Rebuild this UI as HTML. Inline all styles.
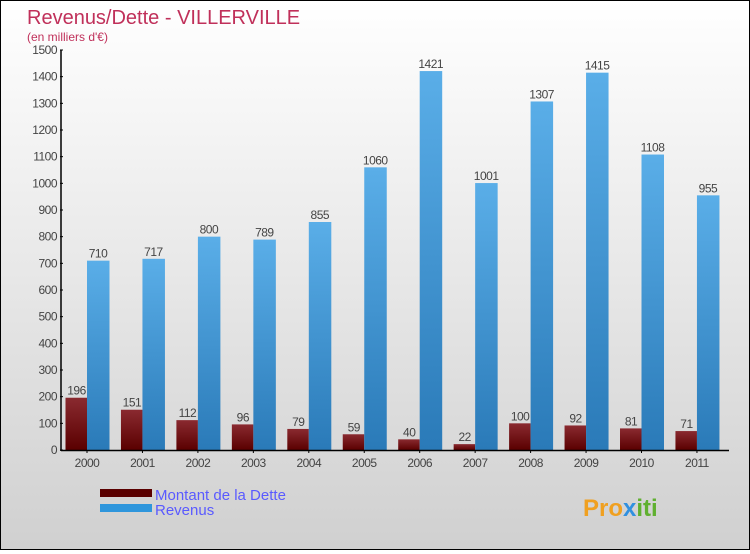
<!DOCTYPE html>
<html><head><meta charset="utf-8"><style>
html,body{margin:0;padding:0}
body{width:750px;height:550px;overflow:hidden;font-family:"Liberation Sans","DejaVu Sans",sans-serif}
#wrap{position:absolute;left:0;top:0;width:748px;height:548px;border:1px solid #000;background:linear-gradient(#ffffff,#d0d0d0)}
</style></head><body>
<div id="wrap">
<svg id="chart" width="748" height="548">
<defs>
<linearGradient id="gR" x1="0" y1="0" x2="0" y2="1"><stop offset="0" stop-color="#8a2a30"/><stop offset="1" stop-color="#5a0000"/></linearGradient>
<linearGradient id="gB" x1="0" y1="0" x2="0" y2="1"><stop offset="0" stop-color="#5aaee8"/><stop offset="1" stop-color="#2a7ab8"/></linearGradient>
</defs>
<text x="26" y="23" font-size="20" fill="#c0305a">Revenus/Dette - VILLERVILLE</text>
<text x="26" y="40" font-size="12" fill="#c0305a">(en milliers d'€)</text>
<g id="plot"></g>
<rect x="99" y="488" width="52" height="8" fill="#5a0000"/>
<rect x="99" y="503" width="52" height="8" fill="#2f96dc"/>
<text x="154" y="499" font-size="15" fill="#5a5aff">Montant de la Dette</text>
<text x="154" y="514" font-size="15" fill="#5a5aff">Revenus</text>
<text x="582" y="515" font-size="24" font-weight="bold" fill="#f0a020">Pro<tspan fill="#3090e0">x</tspan><tspan fill="#60b030">iti</tspan></text>
</svg>
</div>
<script>
const years=["2000","2001","2002","2003","2004","2005","2006","2007","2008","2009","2010","2011"];
const dette=[196,151,112,96,79,59,40,22,100,92,81,71];
const revenus=[710,717,800,789,855,1060,1421,1001,1307,1415,1108,955];
const yTicks=[0,100,200,300,400,500,600,700,800,900,1000,1100,1200,1300,1400,1500];
const NS="http://www.w3.org/2000/svg";
const g=document.getElementById('plot');
const y=v=>449-v*400/1500;
const xc=i=>86+i*55.45;
function mk(t,a){const e=document.createElementNS(NS,t);for(const k in a)e.setAttribute(k,a[k]);g.appendChild(e);return e;}
yTicks.forEach(t=>{
 const l=mk('line',{x1:59,x2:62,y1:y(t),y2:y(t),stroke:'#000'});
 
 
 const tx=mk('text',{x:56,y:y(t)+4,'font-size':12,fill:'#444','text-anchor':'end','letter-spacing':'-0.5'});
 tx.textContent=t;
 
 
});
years.forEach((yr,i)=>{
 const c=xc(i);
 const r=mk('rect',{x:c-21.5,y:y(dette[i]),width:21.5,height:dette[i]*400/1500,fill:'url(#gR)'});
 
 
 const b=mk('rect',{x:c,y:y(revenus[i]),width:22.5,height:revenus[i]*400/1500,fill:'url(#gB)'});
 
 
 const t1=mk('text',{x:c-10.5,y:y(dette[i])-3,'font-size':12,fill:'#444','text-anchor':'middle','letter-spacing':'-0.5'});
 t1.textContent=dette[i];
 
 
 const t2=mk('text',{x:c+11,y:y(revenus[i])-3,'font-size':12,fill:'#444','text-anchor':'middle','letter-spacing':'-0.5'});
 t2.textContent=revenus[i];
 
 
 const tk=mk('line',{x1:c,x2:c,y1:449,y2:452,stroke:'#000'});
 
 
 const xl=mk('text',{x:c,y:466,'font-size':12,fill:'#444','text-anchor':'middle','letter-spacing':'-0.5'});
 xl.textContent=yr;
 
 
});
const ya=mk('line',{x1:60,x2:60,y1:49,y2:450,stroke:'#000','stroke-width':1.5});


const xa=mk('line',{x1:60,x2:728,y1:449.5,y2:449.5,stroke:'#000','stroke-width':1.5});


</script>
</body></html>
